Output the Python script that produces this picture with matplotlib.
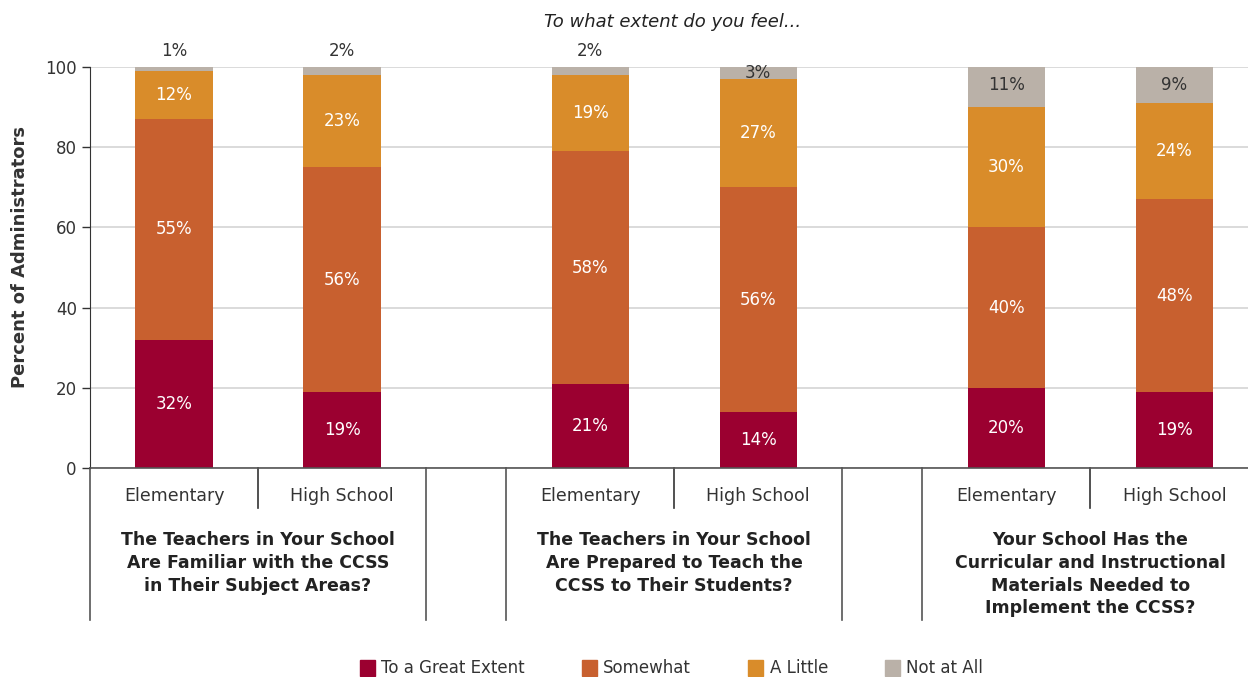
import numpy as np
import matplotlib.pyplot as plt
from matplotlib.patches import Patch

plt.rcParams['font.family'] = ['DejaVu Sans']

groups = ["The Teachers in Your School\nAre Familiar with the CCSS\nin Their Subject Areas?",
          "The Teachers in Your School\nAre Prepared to Teach the\nCCSS to Their Students?",
          "Your School Has the\nCurricular and Instructional\nMaterials Needed to\nImplement the CCSS?"]
levels = ["Elementary", "High School"]
series = ["To a Great Extent", "Somewhat", "A Little", "Not at All"]

great = [32, 19, 21, 14, 20, 19]
somewhat = [55, 56, 58, 56, 40, 48]
little = [12, 23, 19, 27, 30, 24]
not_at_all = [1, 2, 2, 3, 11, 9]

colors = ["#9b0030", "#c8602f", "#d98c2a", "#bab1a8"]
text_colors = ["white", "white", "white", "#333333"]

group_step = 2.476
x = np.array([g * group_step + b for g in range(len(groups)) for b in range(len(levels))])

fig = plt.figure(figsize=(12.48, 6.77), dpi=100)
ax = fig.add_axes([0.0721, 0.3087, 0.9279, 0.5923])

bottom = np.zeros(len(x))
for vals, col, tcol in zip([great, somewhat, little, not_at_all], colors, text_colors):
    vals = np.array(vals, dtype=float)
    ax.bar(x, vals, bottom=bottom, width=0.46, color=col, zorder=2)
    for xi, b, v in zip(x, bottom, vals):
        if v >= 3:
            ax.text(xi, b + v / 2, f"{int(v)}%", ha="center", va="center",
                    color=tcol, fontsize=12)
        else:
            # small slices get their label above the bar
            ax.text(xi, 104, f"{int(v)}%", ha="center", va="center",
                    color="#333333", fontsize=12, clip_on=False)
    bottom += vals

ax.set_ylim(0, 100)
ax.set_xlim(-0.5, 6.39)
ax.set_yticks(range(0, 101, 20))
ax.tick_params(axis="y", labelsize=12, colors="#333333", length=6, width=1)
ax.tick_params(axis="x", bottom=False, labelbottom=False)
ax.yaxis.grid(True, color="#d4d4d4", linewidth=1.2, zorder=0)
ax.set_axisbelow(True)
for s in ["top", "right"]:
    ax.spines[s].set_visible(False)
ax.spines["left"].set_color("#333333")
ax.spines["bottom"].set_color("#555555")
ax.spines["bottom"].set_linewidth(1.2)
ax.set_ylabel("Percent of Administrators", fontsize=13, fontweight="bold",
              color="#333333")
ax.yaxis.set_label_coords(-0.053, 0.525)

# category boxes below the axis
trans = ax.get_xaxis_transform()
for g, title in enumerate(groups):
    start = g * group_step - 0.5
    ax.plot([start, start], [0, -0.379], transform=trans, color="#555555",
            lw=1.2, clip_on=False)
    ax.plot([start + 2, start + 2], [0, -0.379], transform=trans, color="#555555",
            lw=1.2, clip_on=False)
    ax.plot([start + 1, start + 1], [0, -0.1], transform=trans, color="#333333",
            lw=1.2, clip_on=False)
    for b, lev in enumerate(levels):
        ax.text(start + 0.5 + b, -0.07, lev, transform=trans, ha="center",
                va="center", fontsize=12.5, color="#333333")
    ax.text(start + 1, -0.158, title, transform=trans, ha="center", va="top",
            fontsize=12.5, fontweight="bold", color="#222222", linespacing=1.33)

fig.text(0.539, 0.967, "To what extent do you feel...", ha="center", va="center",
         fontsize=13, style="italic", color="#222222")

handles = [Patch(color=c) for c in colors]
fig.legend(handles, series, loc="center", bbox_to_anchor=(0.538, 0.013), ncol=4,
           frameon=False, fontsize=12, handlelength=0.9, handleheight=1.1,
           handletextpad=0.4, columnspacing=3.4, labelcolor="#333333")

fig.savefig("out.png", dpi=100)
